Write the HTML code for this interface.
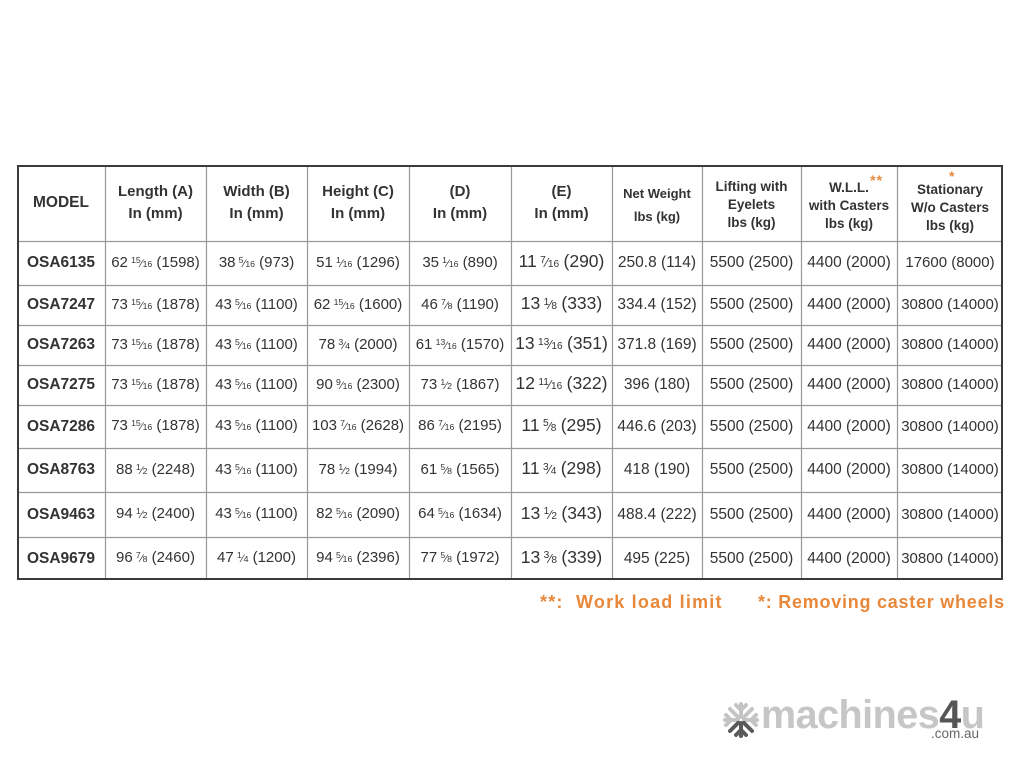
<!DOCTYPE html>
<html><head><meta charset="utf-8">
<style>
html,body{margin:0;padding:0;background:#fff;}
body{width:1024px;height:768px;position:relative;overflow:hidden;font-family:"Liberation Sans",sans-serif;color:#333;}
table.t{position:absolute;left:17px;top:165px;width:986px;border-collapse:collapse;table-layout:fixed;border-spacing:0;}
table.t td{padding:0;text-align:center;vertical-align:middle;white-space:nowrap;font-size:15px;line-height:18px;overflow:visible;word-spacing:-1px;}
.h{font-weight:bold;font-size:15px !important;line-height:22px !important;word-spacing:0 !important;}
.hr{font-weight:bold;font-size:13.5px !important;line-height:18px !important;word-spacing:0 !important;}
.m{font-weight:bold;font-size:15.5px !important;}
.e{font-size:17.5px !important;line-height:22px !important;word-spacing:-1.5px !important;}
.w{font-size:15.5px !important;word-spacing:0 !important;}
.l{font-size:15px !important;word-spacing:0 !important;}
.fr{display:inline-block;margin-left:0px;margin-right:1px;}
.fr .n{font-size:.58em;position:relative;top:-.42em;}
.fr .s{font-size:.72em;}
.fr .d{font-size:.58em;}
.or{color:#e8883a;}
svg.lines{position:absolute;left:0;top:0;}
.foot{position:absolute;top:592px;font-weight:bold;font-size:18px;color:#e8883a;white-space:nowrap;}
.logo{position:absolute;left:761px;top:693px;font-weight:bold;font-size:39.5px;color:#c6c6c6;letter-spacing:-0.5px;white-space:nowrap;}
.logo b{color:#555;}
.com{position:absolute;left:931px;top:726px;font-size:13.5px;color:#666;}
</style></head><body>

<table class="t">
<colgroup>
<col style="width:88px"><col style="width:101px"><col style="width:101px"><col style="width:102px"><col style="width:102px"><col style="width:101px"><col style="width:90px"><col style="width:99px"><col style="width:96px"><col style="width:106px">
</colgroup>
<tr style="height:76px">
<td class="h" style="font-size:15.5px !important">MODEL</td>
<td class="h">Length (A)<br>In (mm)</td>
<td class="h">Width (B)<br>In (mm)</td>
<td class="h">Height (C)<br>In (mm)</td>
<td class="h">(D)<br>In (mm)</td>
<td class="h">(E)<br>In (mm)</td>
<td class="hr" style="line-height:23px !important;padding-top:4px;font-size:13px !important">Net Weight<br>lbs (kg)</td>
<td class="hr" style="padding-top:4px">Lifting with<br>Eyelets<br>lbs (kg)</td>
<td class="hr" style="padding-top:5px"><span style="position:relative">W.L.L.<span class="or" style="position:absolute;left:41px;top:-9px;font-size:14px;letter-spacing:1px">**</span></span><br>with Casters<br>lbs (kg)</td>
<td class="hr" style="padding-top:9px"><span style="position:relative">Stationary<span class="or" style="position:absolute;left:32px;top:-15px;font-size:14px">*</span></span><br>W/o Casters<br>lbs (kg)</td>
</tr>
<tr style="height:44px">
<td class="m">OSA6135</td>
<td>62 <span class="fr"><span class="n">15</span><span class="s">⁄</span><span class="d">16</span></span> (1598)</td>
<td>38 <span class="fr"><span class="n">5</span><span class="s">⁄</span><span class="d">16</span></span> (973)</td>
<td>51 <span class="fr"><span class="n">1</span><span class="s">⁄</span><span class="d">16</span></span> (1296)</td>
<td>35 <span class="fr"><span class="n">1</span><span class="s">⁄</span><span class="d">16</span></span> (890)</td>
<td class="e">11 <span class="fr"><span class="n">7</span><span class="s">⁄</span><span class="d">16</span></span> (290)</td>
<td class="w">250.8 (114)</td>
<td class="w">5500 (2500)</td>
<td class="w">4400 (2000)</td>
<td class="l">17600 (8000)</td>
</tr>
<tr style="height:40px">
<td class="m">OSA7247</td>
<td>73 <span class="fr"><span class="n">15</span><span class="s">⁄</span><span class="d">16</span></span> (1878)</td>
<td>43 <span class="fr"><span class="n">5</span><span class="s">⁄</span><span class="d">16</span></span> (1100)</td>
<td>62 <span class="fr"><span class="n">15</span><span class="s">⁄</span><span class="d">16</span></span> (1600)</td>
<td>46 <span class="fr"><span class="n">7</span><span class="s">⁄</span><span class="d">8</span></span> (1190)</td>
<td class="e">13 <span class="fr"><span class="n">1</span><span class="s">⁄</span><span class="d">8</span></span> (333)</td>
<td class="w">334.4 (152)</td>
<td class="w">5500 (2500)</td>
<td class="w">4400 (2000)</td>
<td class="l">30800 (14000)</td>
</tr>
<tr style="height:40px">
<td class="m">OSA7263</td>
<td>73 <span class="fr"><span class="n">15</span><span class="s">⁄</span><span class="d">16</span></span> (1878)</td>
<td>43 <span class="fr"><span class="n">5</span><span class="s">⁄</span><span class="d">16</span></span> (1100)</td>
<td>78 <span class="fr"><span class="n">3</span><span class="s">⁄</span><span class="d">4</span></span> (2000)</td>
<td>61 <span class="fr"><span class="n">13</span><span class="s">⁄</span><span class="d">16</span></span> (1570)</td>
<td class="e">13 <span class="fr"><span class="n">13</span><span class="s">⁄</span><span class="d">16</span></span> (351)</td>
<td class="w">371.8 (169)</td>
<td class="w">5500 (2500)</td>
<td class="w">4400 (2000)</td>
<td class="l">30800 (14000)</td>
</tr>
<tr style="height:40px">
<td class="m">OSA7275</td>
<td>73 <span class="fr"><span class="n">15</span><span class="s">⁄</span><span class="d">16</span></span> (1878)</td>
<td>43 <span class="fr"><span class="n">5</span><span class="s">⁄</span><span class="d">16</span></span> (1100)</td>
<td>90 <span class="fr"><span class="n">9</span><span class="s">⁄</span><span class="d">16</span></span> (2300)</td>
<td>73 <span class="fr"><span class="n">1</span><span class="s">⁄</span><span class="d">2</span></span> (1867)</td>
<td class="e">12 <span class="fr"><span class="n">11</span><span class="s">⁄</span><span class="d">16</span></span> (322)</td>
<td class="w">396 (180)</td>
<td class="w">5500 (2500)</td>
<td class="w">4400 (2000)</td>
<td class="l">30800 (14000)</td>
</tr>
<tr style="height:43px">
<td class="m">OSA7286</td>
<td>73 <span class="fr"><span class="n">15</span><span class="s">⁄</span><span class="d">16</span></span> (1878)</td>
<td>43 <span class="fr"><span class="n">5</span><span class="s">⁄</span><span class="d">16</span></span> (1100)</td>
<td>103 <span class="fr"><span class="n">7</span><span class="s">⁄</span><span class="d">16</span></span> (2628)</td>
<td>86 <span class="fr"><span class="n">7</span><span class="s">⁄</span><span class="d">16</span></span> (2195)</td>
<td class="e">11 <span class="fr"><span class="n">5</span><span class="s">⁄</span><span class="d">8</span></span> (295)</td>
<td class="w">446.6 (203)</td>
<td class="w">5500 (2500)</td>
<td class="w">4400 (2000)</td>
<td class="l">30800 (14000)</td>
</tr>
<tr style="height:44px">
<td class="m">OSA8763</td>
<td>88 <span class="fr"><span class="n">1</span><span class="s">⁄</span><span class="d">2</span></span> (2248)</td>
<td>43 <span class="fr"><span class="n">5</span><span class="s">⁄</span><span class="d">16</span></span> (1100)</td>
<td>78 <span class="fr"><span class="n">1</span><span class="s">⁄</span><span class="d">2</span></span> (1994)</td>
<td>61 <span class="fr"><span class="n">5</span><span class="s">⁄</span><span class="d">8</span></span> (1565)</td>
<td class="e">11 <span class="fr"><span class="n">3</span><span class="s">⁄</span><span class="d">4</span></span> (298)</td>
<td class="w">418 (190)</td>
<td class="w">5500 (2500)</td>
<td class="w">4400 (2000)</td>
<td class="l">30800 (14000)</td>
</tr>
<tr style="height:45px">
<td class="m">OSA9463</td>
<td>94 <span class="fr"><span class="n">1</span><span class="s">⁄</span><span class="d">2</span></span> (2400)</td>
<td>43 <span class="fr"><span class="n">5</span><span class="s">⁄</span><span class="d">16</span></span> (1100)</td>
<td>82 <span class="fr"><span class="n">5</span><span class="s">⁄</span><span class="d">16</span></span> (2090)</td>
<td>64 <span class="fr"><span class="n">5</span><span class="s">⁄</span><span class="d">16</span></span> (1634)</td>
<td class="e">13 <span class="fr"><span class="n">1</span><span class="s">⁄</span><span class="d">2</span></span> (343)</td>
<td class="w">488.4 (222)</td>
<td class="w">5500 (2500)</td>
<td class="w">4400 (2000)</td>
<td class="l">30800 (14000)</td>
</tr>
<tr style="height:43px">
<td class="m">OSA9679</td>
<td>96 <span class="fr"><span class="n">7</span><span class="s">⁄</span><span class="d">8</span></span> (2460)</td>
<td>47 <span class="fr"><span class="n">1</span><span class="s">⁄</span><span class="d">4</span></span> (1200)</td>
<td>94 <span class="fr"><span class="n">5</span><span class="s">⁄</span><span class="d">16</span></span> (2396)</td>
<td>77 <span class="fr"><span class="n">5</span><span class="s">⁄</span><span class="d">8</span></span> (1972)</td>
<td class="e">13 <span class="fr"><span class="n">3</span><span class="s">⁄</span><span class="d">8</span></span> (339)</td>
<td class="w">495 (225)</td>
<td class="w">5500 (2500)</td>
<td class="w">4400 (2000)</td>
<td class="l">30800 (14000)</td>
</tr>
</table>

<svg class="lines" width="1024" height="768" xmlns="http://www.w3.org/2000/svg">
<g stroke="#9a9a9a" stroke-width="1.2" fill="none">
<line x1="105.5" y1="165" x2="105.5" y2="580"/>
<line x1="206.5" y1="165" x2="206.5" y2="580"/>
<line x1="307.5" y1="165" x2="307.5" y2="580"/>
<line x1="409.5" y1="165" x2="409.5" y2="580"/>
<line x1="511.5" y1="165" x2="511.5" y2="580"/>
<line x1="612.5" y1="165" x2="612.5" y2="580"/>
<line x1="702.5" y1="165" x2="702.5" y2="580"/>
<line x1="801.5" y1="165" x2="801.5" y2="580"/>
<line x1="897.5" y1="165" x2="897.5" y2="580"/>
<line x1="17" y1="241.5" x2="1003" y2="241.5"/>
<line x1="17" y1="285.5" x2="1003" y2="285.5"/>
<line x1="17" y1="325.5" x2="1003" y2="325.5"/>
<line x1="17" y1="365.5" x2="1003" y2="365.5"/>
<line x1="17" y1="405.5" x2="1003" y2="405.5"/>
<line x1="17" y1="448.5" x2="1003" y2="448.5"/>
<line x1="17" y1="492.5" x2="1003" y2="492.5"/>
<line x1="17" y1="537.5" x2="1003" y2="537.5"/>
</g>
<rect x="18" y="166" width="984" height="413" fill="none" stroke="#3a3a3a" stroke-width="2"/>
<g transform="translate(741,720)" stroke-linecap="round" fill="none">
<g stroke="#c4c4c4" stroke-width="4">
<line x1="0" y1="-16" x2="0" y2="-3"/>
<line x1="-16" y1="0" x2="-3" y2="0"/>
<line x1="16" y1="0" x2="3" y2="0"/>
<line x1="-11" y1="-11" x2="-3" y2="-3"/>
<line x1="11" y1="-11" x2="3" y2="-3"/>
<polyline points="-5,-15 0,-10 5,-15"/>
<polyline points="-15,-5 -10,0 -15,5"/>
<polyline points="15,-5 10,0 15,5"/>
</g>
<g stroke="#5a5a5a" stroke-width="4">
<line x1="0" y1="16" x2="0" y2="3"/>
<line x1="-11" y1="11" x2="-3" y2="3"/>
<line x1="11" y1="11" x2="3" y2="3"/>
<polyline points="-5,15 0,10 5,15"/>
</g>
</g>
</svg>

<div class="foot" style="left:540px;letter-spacing:1.2px">**:&nbsp; Work load limit</div>
<div class="foot" style="left:758px;letter-spacing:0.75px">*: Removing caster wheels</div>

<div class="logo">machines<b>4</b>u</div>
<div class="com">.com.au</div>
</body></html>
